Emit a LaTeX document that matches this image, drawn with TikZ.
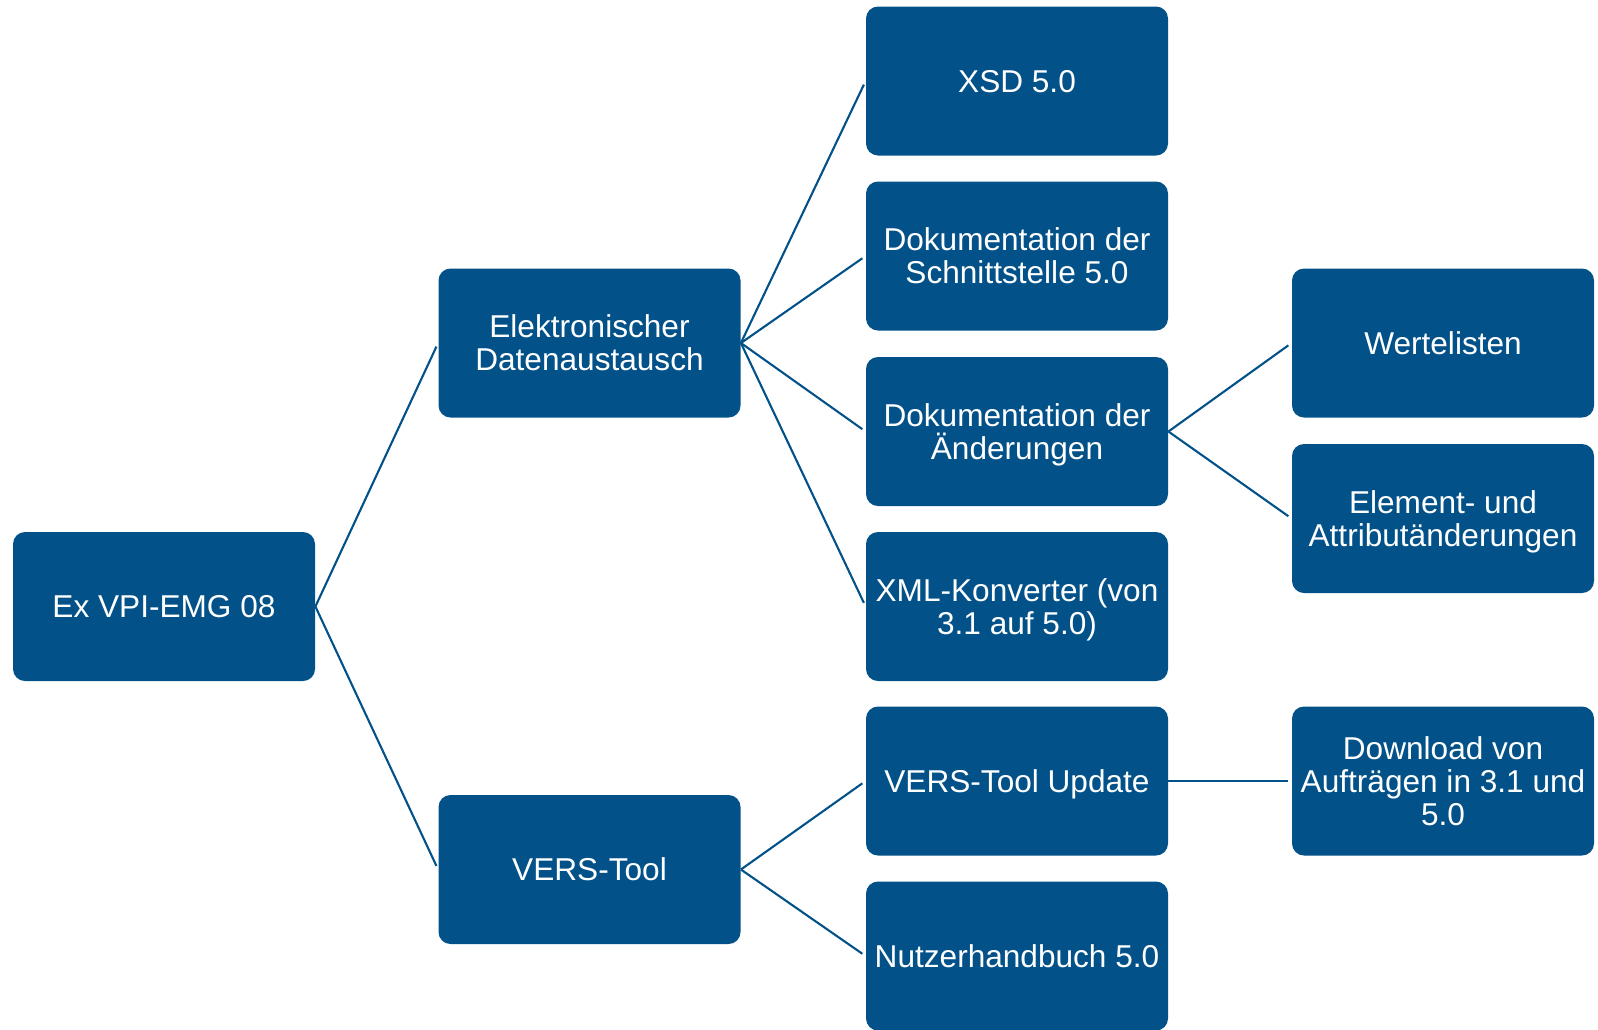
\documentclass[tikz,border=0pt]{standalone}
\usepackage{fontspec}
\setmainfont{Liberation Sans}
\definecolor{boxblue}{RGB}{2,81,136}
\begin{document}
\begin{tikzpicture}[x=0.5pt,y=-0.5pt,
  box/.style={draw=none,fill=boxblue,rounded corners=6pt,minimum width=151pt,minimum height=74.5pt,inner sep=0pt,text depth=0pt,align=center,text=white,font=\fontsize{15.8}{16.5}\selectfont},
  conn/.style={draw=boxblue,line width=1.05pt,shorten >=2pt}]
\useasboundingbox (0,0) rectangle (1598,1029);
\node[box] (root) at (164,606.5) {Ex VPI-EMG 08};
\node[box] (elek) at (589.5,343) {Elektronischer\\Datenaustausch};
\node[box] (vers) at (589.5,869.5) {VERS-Tool};
\node[box] (xsd) at (1017,81) {XSD 5.0};
\node[box] (dok1) at (1017,256) {Dokumentation der\\Schnittstelle 5.0};
\node[box] (dok2) at (1017,431.5) {Dokumentation der\\Änderungen};
\node[box] (xml) at (1017,606.5) {XML-Konverter (von\\3.1 auf 5.0)};
\node[box] (vu) at (1017,781) {VERS-Tool Update};
\node[box] (nutz) at (1017,956) {Nutzerhandbuch 5.0};
\node[box] (wert) at (1443,343) {Wertelisten};
\node[box] (elem) at (1443,518.5) {Element- und\\Attributänderungen};
\node[box] (down) at (1443,781) {Download von\\Aufträgen in 3.1 und\\5.0};
\draw[conn] (root.east) -- (elek.west);
\draw[conn] (root.east) -- (vers.west);
\draw[conn] (elek.east) -- (xsd.west);
\draw[conn] (elek.east) -- (dok1.west);
\draw[conn] (elek.east) -- (dok2.west);
\draw[conn] (elek.east) -- (xml.west);
\draw[conn] (vers.east) -- (vu.west);
\draw[conn] (vers.east) -- (nutz.west);
\draw[conn] (dok2.east) -- (wert.west);
\draw[conn] (dok2.east) -- (elem.west);
\draw[conn] (vu.east) -- (down.west);
\end{tikzpicture}
\end{document}
